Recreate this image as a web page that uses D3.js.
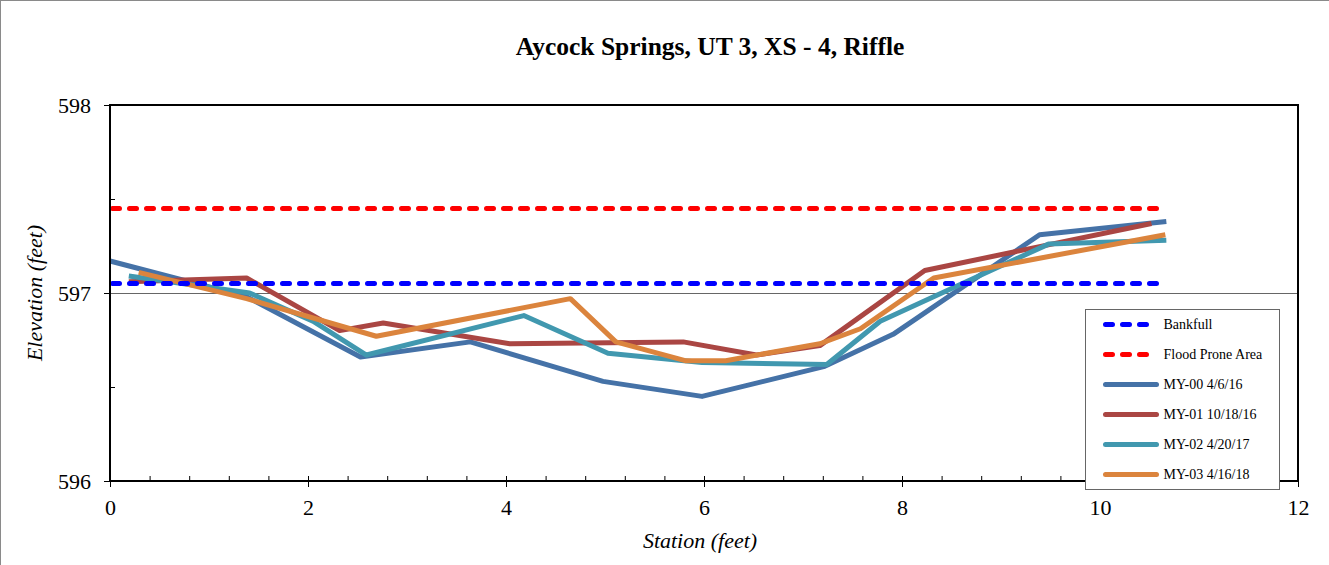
<!DOCTYPE html>
<html>
<head>
<meta charset="utf-8">
<script src="https://cdn.jsdelivr.net/npm/d3@7"></script>
<style>
	body { margin: 0; background: #fff; }
	svg { display: block; font-family: 'Liberation Serif', 'Times New Roman', serif; }
</style>
</head>
<body>
<div class="xs"></div>
<script>
//cross section survey data, station (feet) and elevation (feet)
const seriesNames = [ 'MY-00 4/6/16', 'MY-01 10/18/16', 'MY-02 4/20/17', 'MY-03 4/16/18' ];
const seriesColors = [ '#4572A7', '#AA4643', '#4198AF', '#DB843D' ];

const stationMY00 = [ 0, 1.38, 2.53, 3.64, 4.98, 5.98, 7.22, 7.91, 9.39, 10.67 ];
const elevMY00 = [ 597.17, 596.98, 596.66, 596.74, 596.53, 596.45, 596.61, 596.78, 597.31, 597.38 ];

const stationMY01 = [ 0.19, 1.38, 2.32, 2.76, 4.04, 5.79, 6.53, 7.17, 8.23, 10.52 ];
const elevMY01 = [ 597.06, 597.08, 596.8, 596.84, 596.73, 596.74, 596.67, 596.72, 597.12, 597.37 ];

const stationMY02 = [ 0.19, 1.41, 2.05, 2.59, 4.18, 5.03, 5.98, 7.24, 7.78, 9.48, 10.67 ];
const elevMY02 = [ 597.09, 597.0, 596.85, 596.67, 596.88, 596.68, 596.63, 596.62, 596.85, 597.26, 597.28 ];

const stationMY03 = [ 0.29, 1.38, 2.69, 4.65, 5.11, 5.81, 6.22, 7.17, 7.58, 8.32, 10.66 ];
const elevMY03 = [ 597.11, 596.97, 596.77, 596.97, 596.74, 596.64, 596.64, 596.73, 596.81, 597.08, 597.31 ];

//bankfull and flood prone levels
const levelNames = [ 'Bankfull', 'Flood Prone Area' ];
const levelColors = [ '#0000FF', '#FF0000' ];
const levelElev = [ 597.05, 597.45 ];
const levelStation = [ 0, 10.63 ];

const xTicks = [ 0, 2, 4, 6, 8, 10, 12 ];
const yTicks = [ 596, 597, 598 ];

const width = 1329;
const height = 565;
const margin = { top: 105, right: 31, bottom: 84, left: 110 };

const x = d3.scaleLinear().domain([ 0, 12 ]).range([ margin.left, width - margin.right ]);
const y = d3.scaleLinear().domain([ 596, 598 ]).range([ height - margin.bottom, margin.top ]);

const svg = d3.select('.xs').append('svg').attr('width', width).attr('height', height);

//outer frame of the chart (only top and left show in the window)
svg
	.append('rect')
	.attr('x', 0.5)
	.attr('y', 0.5)
	.attr('width', width + 20)
	.attr('height', height + 20)
	.attr('fill', 'none')
	.attr('stroke', '#8a8a8a');

svg
	.append('text')
	.attr('x', 710)
	.attr('y', 55)
	.attr('text-anchor', 'middle')
	.style('font-size', '25.5px')
	.style('font-weight', 'bold')
	.text('Aycock Springs, UT 3, XS - 4, Riffle');

//gridlines at major y ticks
svg
	.append('g')
	.selectAll('line')
	.data(yTicks)
	.enter()
	.append('line')
	.attr('x1', x(0))
	.attr('x2', x(12))
	.attr('y1', (d) => y(d) + 0.5)
	.attr('y2', (d) => y(d) + 0.5)
	.attr('stroke', '#666')
	.attr('stroke-width', 1);

//x axis: major ticks outside, minor ticks inside
const xMajor = svg
	.append('g')
	.attr('transform', `translate(0, ${y(596)})`)
	.call(d3.axisBottom(x).tickValues(xTicks).tickSize(6).tickPadding(12).tickFormat(d3.format('d')));
const xMinor = svg
	.append('g')
	.attr('transform', `translate(0, ${y(596)})`)
	.call(d3.axisBottom(x).tickValues(d3.range(0, 30).map((i) => i * 0.4)).tickSize(-5).tickFormat(''));

//y axis
const yMajor = svg
	.append('g')
	.attr('transform', `translate(${x(0)}, 0)`)
	.call(d3.axisLeft(y).tickValues(yTicks).tickSize(6).tickPadding(13).tickFormat(d3.format('d')));
const yMinor = svg
	.append('g')
	.attr('transform', `translate(${x(0)}, 0)`)
	.call(d3.axisLeft(y).tickValues([ 596.5, 597.5 ]).tickSize(-5).tickFormat(''));

[ xMajor, xMinor, yMajor, yMinor ].forEach((g) => {
	g.select('.domain').remove();
	g.selectAll('line').attr('stroke', '#000');
	g.selectAll('text').style('font-size', '22px').style('font-family', "'Liberation Serif', serif").attr('fill', '#000');
});
yMajor.selectAll('text').attr('dy', '0.35em');

//axis titles
svg
	.append('text')
	.attr('x', 700)
	.attr('y', 548)
	.attr('text-anchor', 'middle')
	.style('font-size', '22px')
	.style('font-style', 'italic')
	.text('Station (feet)');

svg
	.append('text')
	.attr('transform', `translate(42, ${y(597)}) rotate(-90)`)
	.attr('text-anchor', 'middle')
	.style('font-size', '22px')
	.style('font-style', 'italic')
	.text('Elevation (feet)');

//survey lines
const survey = [
	d3.zip(stationMY00, elevMY00),
	d3.zip(stationMY01, elevMY01),
	d3.zip(stationMY02, elevMY02),
	d3.zip(stationMY03, elevMY03)
];

const line = d3.line().x((d) => x(d[0])).y((d) => y(d[1]));

svg
	.append('g')
	.selectAll('path')
	.data(survey)
	.enter()
	.append('path')
	.attr('d', line)
	.attr('fill', 'none')
	.attr('stroke', (d, i) => seriesColors[i])
	.attr('stroke-width', 5)
	.attr('stroke-linejoin', 'round');

//dashed level lines
svg
	.append('g')
	.selectAll('line')
	.data(levelElev)
	.enter()
	.append('line')
	.attr('x1', x(levelStation[0]) + 2.5)
	.attr('x2', x(levelStation[1]))
	.attr('y1', (d) => y(d))
	.attr('y2', (d) => y(d))
	.attr('stroke', (d, i) => levelColors[i])
	.attr('stroke-width', 5)
	.attr('stroke-linecap', 'round')
	.attr('stroke-dasharray', '7,10');

//plot border
svg
	.append('rect')
	.attr('x', x(0))
	.attr('y', y(598))
	.attr('width', x(12) - x(0))
	.attr('height', y(596) - y(598))
	.attr('fill', 'none')
	.attr('stroke', '#000')
	.attr('stroke-width', 2);

//legend
const legend = svg.append('g').attr('transform', 'translate(1085.5, 309.5)');

legend
	.append('rect')
	.attr('width', 194)
	.attr('height', 180)
	.attr('fill', '#fff')
	.attr('stroke', '#666');

const legendItems = [
	...levelNames.map((name, i) => ({ name: name, color: levelColors[i], dashed: true })),
	...seriesNames.map((name, i) => ({ name: name, color: seriesColors[i], dashed: false }))
];

const item = legend
	.selectAll('g.item')
	.data(legendItems)
	.enter()
	.append('g')
	.attr('class', 'item')
	.attr('transform', (d, i) => `translate(0, ${15 + i * 30})`);

item
	.append('line')
	.attr('x1', 20)
	.attr('x2', 71)
	.attr('stroke', (d) => d.color)
	.attr('stroke-width', 5)
	.attr('stroke-linecap', 'round')
	.attr('stroke-dasharray', (d) => (d.dashed ? '7,10' : null));

item
	.append('text')
	.attr('x', 78)
	.attr('dy', '0.35em')
	.style('font-size', '14px')
	.text((d) => d.name);
</script>
</body>
</html>
